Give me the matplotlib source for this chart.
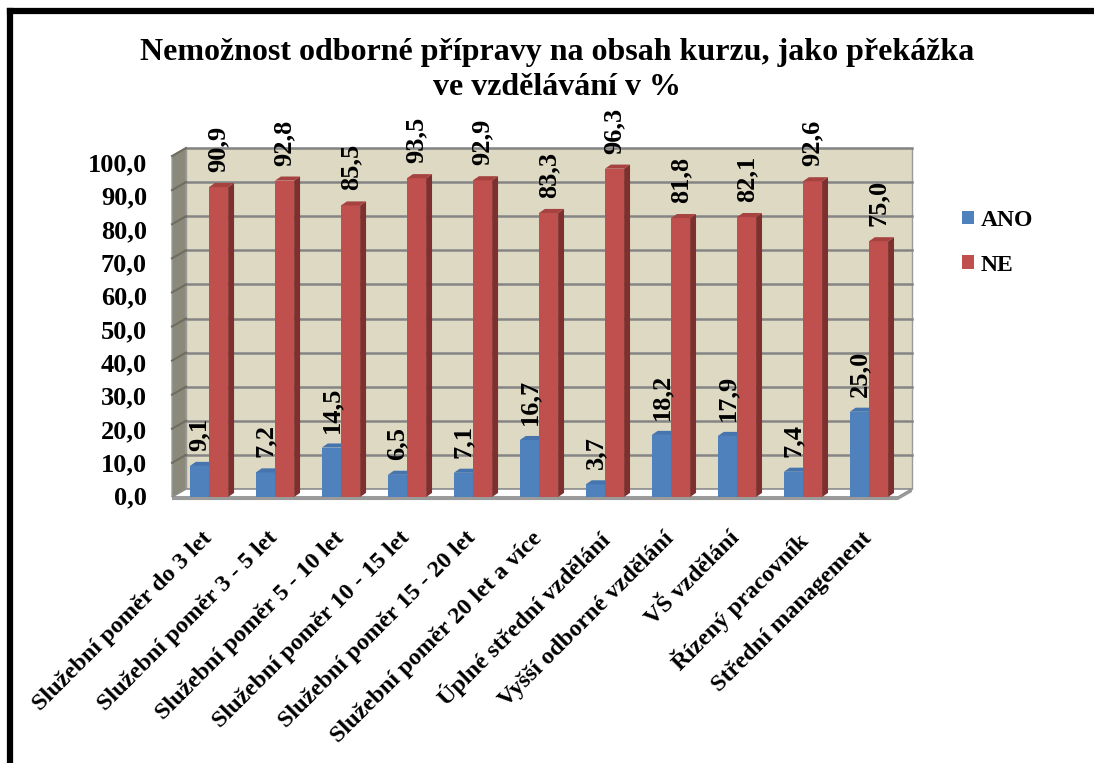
import matplotlib
matplotlib.use("Agg")
import matplotlib.pyplot as plt
from matplotlib.patches import Polygon, Rectangle, Patch
from matplotlib.lines import Line2D

plt.rcParams['font.family'] = ['Liberation Serif', 'DejaVu Serif']
plt.rcParams['font.weight'] = 'bold'

# data
categories = [
    "Služební poměr do 3 let",
    "Služební poměr 3 - 5 let",
    "Služební poměr 5 - 10 let",
    "Služební poměr 10 - 15 let",
    "Služební poměr 15 - 20 let",
    "Služební poměr 20 let a více",
    "Úplné střední vzdělání",
    "Vyšší odborné vzdělání",
    "VŠ vzdělání",
    "Řízený pracovník",
    "Střední management",
]
ano = [9.1, 7.2, 14.5, 6.5, 7.1, 16.7, 3.7, 18.2, 17.9, 7.4, 25.0]
ne = [90.9, 92.8, 85.5, 93.5, 92.9, 83.3, 96.3, 81.8, 82.1, 92.6, 75.0]
series_names = ["ANO", "NE"]
yticks = [0, 10, 20, 30, 40, 50, 60, 70, 80, 90, 100]

# colours (front, side, top)
blue = ('#4f81bd', '#37608f', '#4574ae')
red = ('#c0504d', '#7f302e', '#a64340')
wall_back = '#ddd9c3'
wall_side = '#8b8979'
grid_col = '#858585'

# 3D-look geometry (data units)
W = 0.29          # bar width
BDX, BDY = 0.09, 1.2    # bar depth
DX, DY = 0.212, 2.35    # wall depth
FL, FR = -0.56, 10.44   # floor front edge

fig = plt.figure(figsize=(10.94, 7.63), dpi=100)
ax = fig.add_axes([0.1488, 0.3263, 0.7058, 0.4915])
ax.set_xlim(-0.7, 11.0)
ax.set_ylim(-5, 105)
ax.axis('off')

# walls
ax.add_patch(Polygon([(FL + DX, DY), (FR + DX, DY), (FR + DX, 100 + DY), (FL + DX, 100 + DY)],
                     closed=True, facecolor=wall_back, edgecolor='#9a9a9a', lw=1, zorder=1))
ax.add_patch(Polygon([(FL, 0), (FL + DX, DY), (FL + DX, 100 + DY), (FL, 100)],
                     closed=True, facecolor=wall_side, edgecolor='#9a9a9a', lw=1, zorder=1))
# floor
ax.add_patch(Polygon([(FL, 0), (FR, 0), (FR + DX, DY), (FL + DX, DY)],
                     closed=True, facecolor='white', edgecolor='#8c8c8c', lw=1.2, zorder=1))
ax.add_patch(Polygon([(FL, 0), (FR, 0), (FR + DX, DY), (FR + DX, DY - 0.9), (FR, -0.9), (FL, -0.9)],
                     closed=True, facecolor='#9a9a9a', edgecolor='none', zorder=1))

# gridlines
for v in yticks[1:]:
    ax.plot([FL + DX, FR + DX], [v + DY, v + DY], color=grid_col, lw=1.8, zorder=2)
    ax.plot([FL, FL + DX], [v, v + DY], color='#6f6d60', lw=1.5, zorder=2)


def bar3d(x0, val, cols):
    front, side, top = cols
    ax.add_patch(Rectangle((x0, 0), W, val, facecolor=front, edgecolor='none', zorder=3))
    ax.add_patch(Polygon([(x0 + W, 0), (x0 + W, val), (x0 + W + BDX, val + BDY), (x0 + W + BDX, BDY)],
                         closed=True, facecolor=side, edgecolor='none', zorder=3))
    ax.add_patch(Polygon([(x0, val), (x0 + W, val), (x0 + W + BDX, val + BDY), (x0 + BDX, val + BDY)],
                         closed=True, facecolor=top, edgecolor='none', zorder=3))
    ax.text(x0 + W / 2, val + 4.4, f"{val:.1f}".replace('.', ','), rotation=90,
            ha='center', va='bottom', fontsize=19, fontweight='bold', zorder=5)


for i in range(len(categories)):
    bar3d(i - W, ano[i], blue)
    bar3d(i, ne[i], red)

# value axis labels
for v in yticks:
    ax.text(-0.94, v * 0.977 - 0.29, f"{v:.1f}".replace('.', ','), ha='right', va='center',
            fontsize=19, fontweight='bold', clip_on=False)

# category labels
for i, c in enumerate(categories):
    ax.text(i - 0.12, -9.0, c, rotation=45, rotation_mode='anchor', ha='right', va='top',
            fontsize=17.5, fontweight='bold', clip_on=False)

# title
fig.text(0.509, 1 - 70 / 763, "Nemožnost odborné přípravy na obsah kurzu, jako překážka\nve vzdělávání v %",
         ha='center', va='center', fontsize=23, fontweight='bold', linespacing=1.3)

# legend
handles = [Patch(facecolor=blue[0]), Patch(facecolor=red[0])]
fig.legend(handles, series_names, loc='upper left', bbox_to_anchor=(962 / 1094, 1 - 210 / 763),
           frameon=False, prop={'weight': 'bold', 'size': 17},
           handlelength=0.5, handleheight=0.5, handletextpad=0.3, labelspacing=1.0,
           borderpad=0, borderaxespad=0)

# outer frame (left and top)
fig.add_artist(Line2D([10 / 1094, 10 / 1094], [0, 1 - 11 / 763], transform=fig.transFigure,
                      color='black', lw=4.5, solid_capstyle='projecting'))
fig.add_artist(Line2D([10 / 1094, 1], [1 - 11 / 763, 1 - 11 / 763], transform=fig.transFigure,
                      color='black', lw=4.5, solid_capstyle='projecting'))

fig.savefig("out.png", dpi=100)
